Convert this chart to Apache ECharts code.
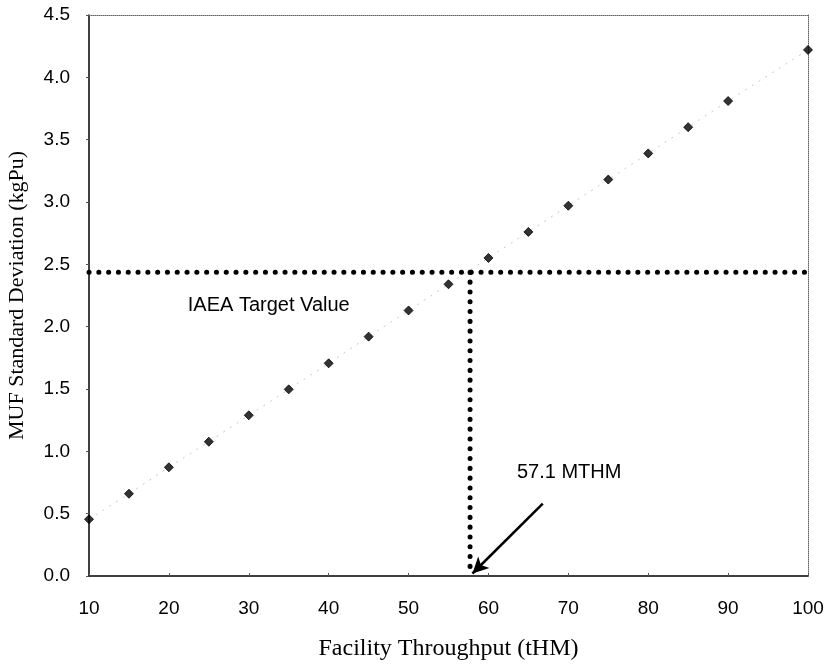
<!DOCTYPE html>
<html><head><meta charset="utf-8">
<script src="https://cdn.jsdelivr.net/npm/echarts@6/dist/echarts.min.js"></script>
<style>html,body{margin:0;padding:0;background:#fff}#c{width:829px;height:664px}</style>
</head><body><div id="c"></div>
<script>
var throughput = [10,15,20,25,30,35,40,45,50,55,60,65,70,75,80,85,90,100];
var mufStd = [0.455,0.66,0.872,1.077,1.289,1.497,1.706,1.92,2.13,2.34,2.551,2.76,2.97,3.18,3.39,3.60,3.81,4.22];
var targetValue = 2.436;
var crossX = 57.7;
var xTicks = [10,100,10];   // min, max, interval
var yTicks = [0,4.5,0.5];
var arrowFrom = [66.8, 0.58];
var arrowTo = [58.0, 0.02];

var pts = throughput.map(function(x,i){return [x,mufStd[i]];});
var chart = echarts.init(document.getElementById('c'));
var sansFont = 'Liberation Sans, Arial, sans-serif';
var serifFont = 'Liberation Serif, Times New Roman, serif';
var dotLine = {color:'#000', width:5, type:[0.1,9.7], cap:'round'};
chart.setOption({
  animation:false,
  grid:{left:89,right:21,top:15,bottom:88,containLabel:false,outerBoundsMode:'none'},
  xAxis:[{
    type:'value', min:xTicks[0], max:xTicks[1], interval:xTicks[2],
    name:'Facility Throughput (tHM)', nameLocation:'middle', nameGap:61,
    nameTextStyle:{fontFamily:serifFont,fontSize:24,color:'#000'},
    axisLine:{lineStyle:{color:'#000',width:1.5}},
    axisTick:{inside:true,length:3,lineStyle:{color:'#555'}},
    axisLabel:{margin:23,fontFamily:sansFont,fontSize:19,color:'#000'},
    splitLine:{show:false}
  },{
    type:'value', position:'top', min:xTicks[0], max:xTicks[1],
    axisLine:{show:true,onZero:false,lineStyle:{color:'#666',width:1,type:[1,1]}},
    axisTick:{show:false}, axisLabel:{show:false}, splitLine:{show:false}
  }],
  yAxis:[{
    type:'value', min:yTicks[0], max:yTicks[1], interval:yTicks[2],
    name:'MUF Standard Deviation (kgPu)', nameLocation:'middle', nameGap:61,
    nameTextStyle:{fontFamily:serifFont,fontSize:22,color:'#000'},
    axisLine:{show:true,lineStyle:{color:'#000',width:1.5}},
    axisTick:{show:true,length:3,lineStyle:{color:'#555'}},
    axisLabel:{margin:19,fontFamily:sansFont,fontSize:19,color:'#000',
      formatter:function(v){return v.toFixed(1);}},
    splitLine:{show:false}
  },{
    type:'value', position:'right', min:yTicks[0], max:yTicks[1],
    axisLine:{show:true,onZero:false,lineStyle:{color:'#666',width:1,type:[1,1]}},
    axisTick:{show:false}, axisLabel:{show:false}, splitLine:{show:false}
  }],
  series:[
    {type:'line', data:pts, symbol:'none', silent:true,
     lineStyle:{color:'#c8c8c8',width:1,type:[2,6]}, z:1},
    {type:'line', data:[[xTicks[0],targetValue],[xTicks[1],targetValue]], symbol:'none',
     lineStyle:dotLine, z:2},
    {type:'line', data:[[crossX,targetValue],[crossX,0]], symbol:'none',
     lineStyle:dotLine, z:2},
    {type:'scatter', data:pts, symbol:'diamond', symbolSize:9,
     itemStyle:{color:'#000',borderColor:'#000',borderWidth:1}, z:5,
     markLine:{silent:true, symbol:['none','arrow'], symbolSize:[12,16],
       lineStyle:{color:'#000',width:2.5,type:'solid'}, label:{show:false},
       data:[[{coord:arrowFrom},{coord:arrowTo}]]},
     markPoint:{symbol:'rect',symbolSize:1,itemStyle:{color:'transparent'},
       label:{show:true,fontFamily:sansFont,fontSize:20,color:'#000',position:'right',distance:0},
       data:[
         {coord:[22.3,2.17], value:'IAEA Target Value', label:{formatter:'IAEA Target Value'}},
         {coord:[63.5,0.83], value:'57.1 MTHM', label:{formatter:'57.1 MTHM'}}
       ]}
    }
  ]
});
</script></body></html>
